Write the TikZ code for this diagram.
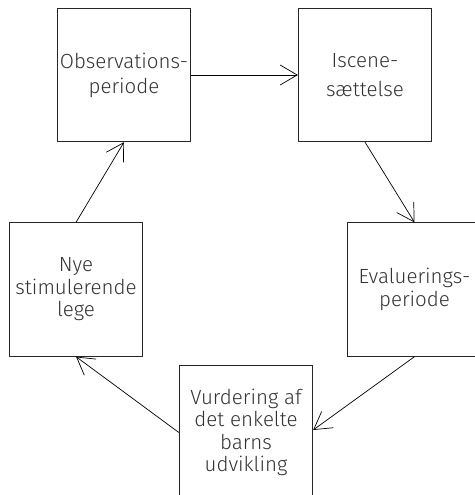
\documentclass[tikz,border=0pt]{standalone}
\usepackage{fontspec}
\setmainfont{Fira Sans}[UprightFont=* Light]
\usetikzlibrary{arrows.meta}
\begin{document}
\begin{tikzpicture}[x=1pt,y=-1pt,
  stage/.style={draw=black!85, line width=0.8pt, minimum width=133.5pt, minimum height=133.5pt,
    inner sep=0pt, align=center, font=\fontsize{20.5}{22.5}\selectfont, text=black!80},
  flow/.style={draw=black, line width=0.7pt, -{Straight Barb[length=17pt,width=20pt,line width=0.7pt]}}]
\useasboundingbox (0,0) rectangle (474,495);
\node[stage] (obs) at (124,75) {Observations-\\[2.5pt]periode};
\node[stage] (isc) at (365,75) {Iscene-\\[7pt]sættelse};
\node[stage] (nye) at (76,289.5) {Nye\\stimulerende\\lege};
\node[stage] (eva) at (414.5,289.5) {Evaluerings-\\periode};
\node[stage] (vur) at (246,432.5) {Vurdering af\\det enkelte\\barns\\udvikling};
\draw[flow] (obs.east) -- (isc.west);
\draw[flow] (isc.south) -- (eva.north);
\draw[flow] (eva.south) -- ([yshift=2.5pt]vur.east);
\draw[flow] (vur.west) -- (nye.south);
\draw[flow] (nye.north) -- (obs.south);
\end{tikzpicture}
\end{document}
